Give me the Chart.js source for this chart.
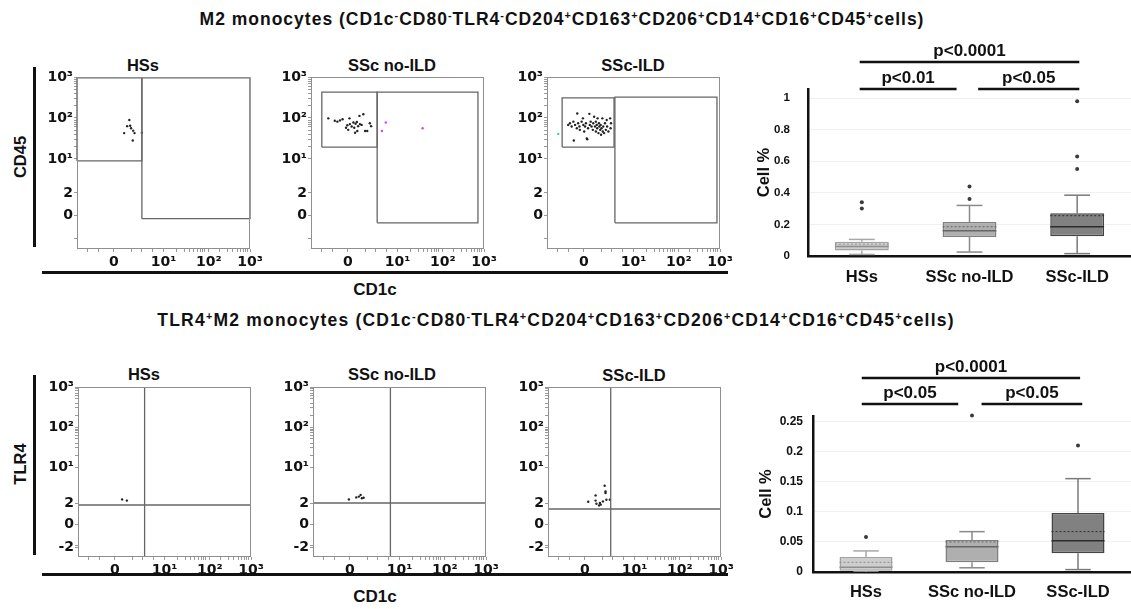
<!DOCTYPE html>
<html>
<head>
<meta charset="utf-8">
<script src="https://cdn.jsdelivr.net/npm/chart.js@4.4.1/dist/chart.umd.min.js"></script>
<style>
body { margin: 0; background: #fff; width: 1131px; height: 609px; position: relative; overflow: hidden; font-family: "Liberation Sans", Arial, sans-serif; }
canvas { position: absolute; }
.t { position: absolute; font-weight: bold; white-space: nowrap; line-height: 1; color: #111; transform: translate(-50%, -50%); }
.big { font-size: 17.5px; letter-spacing: 1px; }
.axt { font-size: 17px; }
.panel { font-size: 16.5px; }
.rot { font-size: 16.5px; transform: translate(-50%, -50%) rotate(-90deg); }
.rule { position: absolute; background: #111; }
sup { font-size: 62%; vertical-align: 0.55em; line-height: 0; }
</style>
</head>
<body>

<div class="t big" style="left:562px;top:20px">M2 monocytes (CD1c<sup>-</sup>CD80<sup>-</sup>TLR4<sup>-</sup>CD204<sup>+</sup>CD163<sup>+</sup>CD206<sup>+</sup>CD14<sup>+</sup>CD16<sup>+</sup>CD45<sup>+</sup>cells)</div>
<div class="t big" style="left:556px;top:321px;letter-spacing:1.2px">TLR4<sup>+</sup>M2 monocytes (CD1c<sup>-</sup>CD80<sup>-</sup>TLR4<sup>+</sup>CD204<sup>+</sup>CD163<sup>+</sup>CD206<sup>+</sup>CD14<sup>+</sup>CD16<sup>+</sup>CD45<sup>+</sup>cells)</div>

<div class="t panel" style="left:143px;top:65px">HSs</div>
<div class="t panel" style="left:392px;top:65px">SSc no-ILD</div>
<div class="t panel" style="left:633px;top:65px">SSc-ILD</div>
<div class="t panel" style="left:144px;top:374px">HSs</div>
<div class="t panel" style="left:392px;top:374px">SSc no-ILD</div>
<div class="t panel" style="left:634px;top:375px">SSc-ILD</div>

<div class="t rot" style="left:20px;top:157px">CD45</div>
<div class="t rot" style="left:20px;top:464px">TLR4</div>
<div class="rule" style="left:33px;top:67px;width:3px;height:180px"></div>
<div class="rule" style="left:33px;top:375px;width:3px;height:180px"></div>
<div class="rule" style="left:42px;top:271px;width:686px;height:3px"></div>
<div class="rule" style="left:42px;top:573px;width:686px;height:3px"></div>
<div class="t axt" style="left:375px;top:289px">CD1c</div>
<div class="t axt" style="left:375px;top:596px">CD1c</div>

<canvas id="f1" width="237" height="207" style="left:27px;top:67px"></canvas>
<canvas id="f2" width="237" height="207" style="left:261px;top:67px"></canvas>
<canvas id="f3" width="237" height="207" style="left:497px;top:67px"></canvas>
<canvas id="g1" width="237" height="205" style="left:28px;top:377px"></canvas>
<canvas id="g2" width="237" height="205" style="left:263px;top:377px"></canvas>
<canvas id="g3" width="237" height="205" style="left:498px;top:377px"></canvas>
<canvas id="box1" width="391" height="250" style="left:740px;top:40px"></canvas>
<canvas id="box2" width="391" height="265" style="left:740px;top:340px"></canvas>

<script>
// flow plots: axis units are decades on the display scale (10^1 = 1, 10^2 = 2, 10^3 = 3)
const xMajor = [-0.15, 1, 2.05, 3]
const xMajorLabels = ['0', '10¹', '10²', '10³']
const xMinor = [-0.75, -0.5, 0.25, 0.5, 0.75, 1.3, 1.48, 1.6, 1.7, 1.78, 1.85, 1.9, 1.95, 2.3, 2.48, 2.6, 2.7, 2.78, 2.85, 2.9, 2.95]
const m2YMajor = [-0.39, 0.17, 1, 2, 3]
const m2YLabels = ['0', '2', '10¹', '10²', '10³']
const tlrYMajor = [-1.0, -0.43, 0.1, 1, 2, 3]
const tlrYLabels = ['-2', '0', '2', '10¹', '10²', '10³']
const yMinor = [-0.95, 1.3, 1.48, 1.6, 1.7, 1.78, 1.85, 1.9, 1.95, 2.3, 2.48, 2.6, 2.7, 2.78, 2.85, 2.9, 2.95]

// gates as [x0, x1, y0, y1]
const m2GatesHSs = [[-1, 0.5, 0.95, 2.98], [0.5, 3, -0.46, 2.98]]
const m2GatesNoILD = [[-0.75, 0.53, 1.29, 2.63], [0.53, 2.86, -0.56, 2.63]]
const m2GatesILD = [[-0.65, 0.55, 1.29, 2.49], [0.57, 2.93, -0.56, 2.51]]
// quadrant crosses as [x, y]
const tlrQuadHSs = [0.54, 0.05]
const tlrQuadNoILD = [0.79, 0.10]
const tlrQuadILD = [0.45, -0.05]

const m2EventsHSs = [[0.09, 1.63], [0.16, 1.8], [0.21, 1.95], [0.23, 1.81], [0.25, 1.75], [0.29, 1.45], [0.30, 1.69], [0.33, 1.63], [0.50, 1.64]]
const m2EventsNoILD = [[-0.6, 1.99], [-0.45, 1.93], [-0.39, 1.91], [-0.33, 1.94], [-0.27, 1.97], [-0.19, 1.76], [-0.16, 1.82],
	[-0.14, 1.71], [-0.11, 1.99], [-0.10, 1.85], [-0.06, 1.79], [-0.02, 1.89], [0.0, 1.76], [0.02, 1.64], [0.03, 1.86],
	[0.06, 1.90], [0.07, 1.68], [0.09, 1.80], [0.12, 2.05], [0.13, 1.85], [0.17, 1.83], [0.21, 2.09], [0.25, 1.68],
	[0.30, 1.68], [0.36, 1.87], [0.39, 1.80]]
const m2EventsNoILDOut = [[0.73, 1.89], [0.64, 1.68], [1.58, 1.75]]
const m2EventsILD = [[-0.51, 1.83], [-0.47, 1.87], [-0.43, 1.79], [-0.39, 1.91], [-0.38, 1.45], [-0.35, 1.83], [-0.31, 1.75],
	[-0.30, 2.11], [-0.28, 1.87], [-0.25, 1.79], [-0.24, 1.71], [-0.20, 1.91], [-0.17, 1.99], [-0.16, 1.83], [-0.14, 1.67],
	[-0.12, 1.79], [-0.10, 1.87], [-0.08, 1.50], [-0.07, 1.48], [-0.05, 1.75], [-0.02, 2.10], [-0.01, 1.83], [0.01, 1.91],
	[0.03, 1.79], [0.06, 1.71], [0.07, 1.87], [0.09, 2.03], [0.11, 1.79], [0.13, 1.67], [0.13, 1.91], [0.15, 1.83],
	[0.16, 1.75], [0.17, 1.99], [0.19, 1.63], [0.20, 1.87], [0.21, 1.79], [0.23, 1.71], [0.24, 1.83], [0.25, 1.59],
	[0.26, 1.75], [0.28, 1.99], [0.29, 1.67], [0.30, 1.79], [0.32, 1.63], [0.34, 1.87], [0.36, 1.71], [0.38, 1.95],
	[0.39, 1.79], [0.42, 1.67], [0.46, 1.99], [0.47, 1.75], [0.48, 1.87]]
const m2EventsILDOut = [[-0.74, 1.61]]
const tlrEventsHSs = [[0.02, 0.19], [0.13, 0.16]]
const tlrEventsNoILD = [[-0.17, 0.19], [0.0, 0.24], [0.06, 0.26], [0.10, 0.30], [0.13, 0.22], [0.17, 0.23]]
const tlrEventsILD = [[-0.07, 0.13], [0.10, 0.29], [0.10, 0.16], [0.12, 0.08], [0.18, 0.04], [0.20, 0.10], [0.22, 0.06],
	[0.27, 0.14], [0.31, 0.53], [0.33, 0.39], [0.33, 0.35], [0.35, 0.18], [0.43, 0.18]]

// box plots
const groups = ['HSs', 'SSc no-ILD', 'SSc-ILD']
const m2Min = [0.01, 0.025, 0.015]
const m2Q1 = [0.035, 0.12, 0.125]
const m2Median = [0.06, 0.16, 0.185]
const m2Mean = [0.075, 0.185, 0.255]
const m2Q3 = [0.09, 0.215, 0.27]
const m2Max = [0.105, 0.32, 0.385]
const m2Outliers = [[0.30, 0.34], [0.36, 0.44], [0.55, 0.63, 0.98]]
const m2Ticks = [0, 0.2, 0.4, 0.6, 0.8, 1]
const m2Sig = [
	{from: -0.02, to: 2.02, label: 'p<0.0001', level: 1},
	{from: -0.02, to: 0.88, label: 'p<0.01', level: 0},
	{from: 1.08, to: 2.02, label: 'p<0.05', level: 0},
]

const tlrMin = [0, 0.007, 0.004]
const tlrQ1 = [0.002, 0.016, 0.031]
const tlrMedian = [0.008, 0.042, 0.052]
const tlrMean = [0.016, 0.05, 0.067]
const tlrQ3 = [0.025, 0.053, 0.098]
const tlrMax = [0.035, 0.067, 0.155]
const tlrOutliers = [[0.058], [0.26], [0.21]]
const tlrTicks = [0, 0.05, 0.1, 0.15, 0.2, 0.25]
const tlrSig = [
	{from: -0.04, to: 2.02, label: 'p<0.0001', level: 1},
	{from: -0.04, to: 0.87, label: 'p<0.05', level: 0},
	{from: 1.09, to: 2.04, label: 'p<0.05', level: 0},
]

Chart.defaults.font.family = '"Liberation Sans", Arial, sans-serif'
Chart.defaults.color = '#111'

const framePlugin = {
	id: 'frame',
	afterDatasetsDraw(chart) {
		const a = chart.chartArea, ctx = chart.ctx
		ctx.save()
		ctx.strokeStyle = '#8f8f8f'
		ctx.lineWidth = 1
		ctx.strokeRect(a.left + 0.5, a.top + 0.5, a.right - a.left - 1, a.bottom - a.top - 1)
		ctx.restore()
	}
}

function flowAxis(min, max, major, labels, minor, horizontal) {
	return {
		type: 'linear',
		min: min,
		max: max,
		afterFit: function(s) {
			if (horizontal) s.height = 25
			else s.width = 50
		},
		afterBuildTicks: function(s) {
			s.ticks = major.concat(minor).map(v => ({value: v}))
		},
		ticks: {
			autoSkip: false,
			maxRotation: 0,
			padding: horizontal ? 2 : 1,
			color: '#111',
			font: {family: '"DejaVu Sans", Verdana, sans-serif', weight: 'bold', size: 14},
			callback: function(v) {
				const k = major.indexOf(v)
				return k < 0 ? '' : labels[k]
			},
		},
		grid: {drawOnChartArea: false, drawTicks: true, tickLength: 3, color: '#9a9a9a'},
		border: {display: false},
	}
}

function events(list, color) {
	return {
		data: list.map(p => ({x: p[0], y: p[1]})),
		pointRadius: 1.2,
		backgroundColor: color,
		borderColor: color,
		borderWidth: 0,
	}
}

function gateLine(points) {
	return {
		data: points,
		showLine: true,
		pointRadius: 0,
		borderColor: '#666',
		borderWidth: 1.3,
		clip: false,
	}
}

function flowPanel(id, o) {
	const datasets = []
	if (o.gates) {
		o.gates.forEach(g => {
			datasets.push(gateLine([
				{x: g[0], y: g[2]}, {x: g[1], y: g[2]}, {x: g[1], y: g[3]}, {x: g[0], y: g[3]}, {x: g[0], y: g[2]}
			]))
		})
	}
	if (o.quad) {
		datasets.push(gateLine([{x: o.quad[0], y: o.yMin}, {x: o.quad[0], y: 3}]))
		datasets.push(gateLine([{x: -1, y: o.quad[1]}, {x: 3, y: o.quad[1]}]))
	}
	datasets.push(events(o.events, '#222'))
	if (o.extra) datasets.push(events(o.extra, o.extraColor))

	return new Chart(document.getElementById(id), {
		type: 'scatter',
		data: {datasets: datasets},
		options: {
			responsive: false,
			animation: false,
			events: [],
			layout: {padding: {top: 10, right: 14, left: 0, bottom: 0}, autoPadding: false},
			plugins: {legend: {display: false}, tooltip: {enabled: false}},
			scales: {
				x: flowAxis(-1, 3, xMajor, xMajorLabels, xMinor, true),
				y: flowAxis(o.yMin, 3, o.yMajor, o.yLabels, yMinor, false),
			},
		},
		plugins: [framePlugin],
	})
}

flowPanel('f1', {yMin: -1.2, yMajor: m2YMajor, yLabels: m2YLabels, gates: m2GatesHSs, events: m2EventsHSs})
flowPanel('f2', {yMin: -1.2, yMajor: m2YMajor, yLabels: m2YLabels, gates: m2GatesNoILD, events: m2EventsNoILD,
	extra: m2EventsNoILDOut, extraColor: '#e040e0'})
flowPanel('f3', {yMin: -1.2, yMajor: m2YMajor, yLabels: m2YLabels, gates: m2GatesILD, events: m2EventsILD,
	extra: m2EventsILDOut, extraColor: '#40d0b0'})
flowPanel('g1', {yMin: -1.25, yMajor: tlrYMajor, yLabels: tlrYLabels, quad: tlrQuadHSs, events: tlrEventsHSs})
flowPanel('g2', {yMin: -1.25, yMajor: tlrYMajor, yLabels: tlrYLabels, quad: tlrQuadNoILD, events: tlrEventsNoILD})
flowPanel('g3', {yMin: -1.25, yMajor: tlrYMajor, yLabels: tlrYLabels, quad: tlrQuadILD, events: tlrEventsILD})

// box plots
const boxFill = ['#cdcdcd', '#afafaf', '#818181']
const boxEdge = ['#a2a2a2', '#7f7f7f', '#444']
const whiskerColor = ['#a8a8a8', '#8a8a8a', '#7a7a7a']
const medianColor = ['#8e8e8e', '#666', '#2c2c2c']

const sigPlugin = {
	id: 'sig',
	afterDraw(chart, args, opts) {
		const ctx = chart.ctx, x = chart.scales.x2, top = chart.chartArea.top
		ctx.save()
		ctx.strokeStyle = '#111'
		ctx.fillStyle = '#111'
		ctx.lineWidth = 2.5
		ctx.font = 'bold 17px "Liberation Sans", Arial, sans-serif'
		ctx.textAlign = 'center'
		ctx.textBaseline = 'middle'
		opts.pairs.forEach(p => {
			const y = top - opts.base - p.level * opts.step
			const a = x.getPixelForValue(p.from), b = x.getPixelForValue(p.to)
			ctx.beginPath()
			ctx.moveTo(a, y)
			ctx.lineTo(b, y)
			ctx.stroke()
			ctx.fillText(p.label, (a + b) / 2, y - 11)
		})
		ctx.restore()
	}
}

function seg(x0, y0, x1, y1, color, width, dash) {
	return {
		type: 'line',
		xAxisID: 'x2',
		data: [{x: x0, y: y0}, {x: x1, y: y1}],
		borderColor: color,
		borderWidth: width,
		borderDash: dash || [],
		pointRadius: 0,
		order: 0,
	}
}

function boxPlot(id, st, o) {
	const cap = 0.12, half = 0.25
	const datasets = [{
		type: 'bar',
		xAxisID: 'x',
		data: groups.map((g, i) => [st.q1[i], st.q3[i]]),
		backgroundColor: boxFill,
		borderColor: boxEdge,
		borderWidth: 1.5,
		borderSkipped: false,
		grouped: false,
		barPercentage: 0.5,
		categoryPercentage: 1,
		order: 1,
	}]
	groups.forEach((g, i) => {
		datasets.push(seg(i, st.q3[i], i, st.max[i], whiskerColor[i], 1.5))
		datasets.push(seg(i, st.q1[i], i, st.min[i], whiskerColor[i], 1.5))
		datasets.push(seg(i - cap, st.max[i], i + cap, st.max[i], whiskerColor[i], 1.5))
		datasets.push(seg(i - cap, st.min[i], i + cap, st.min[i], whiskerColor[i], 1.5))
		datasets.push(seg(i - half, st.median[i], i + half, st.median[i], medianColor[i], 1.5))
		datasets.push(seg(i - half, st.mean[i], i + half, st.mean[i], medianColor[i], 1, [2, 2]))
	})
	const pts = []
	st.outliers.forEach((list, i) => list.forEach(v => pts.push({x: i, y: v})))
	datasets.push({
		type: 'scatter',
		xAxisID: 'x2',
		data: pts,
		pointRadius: 2,
		backgroundColor: '#3a3a3a',
		borderColor: '#3a3a3a',
		borderWidth: 0,
		clip: false,
		order: 0,
	})

	return new Chart(document.getElementById(id), {
		type: 'bar',
		data: {labels: groups, datasets: datasets},
		options: {
			responsive: false,
			animation: false,
			events: [],
			layout: {padding: {top: o.padTop, right: 0, left: 0, bottom: 0}, autoPadding: false},
			plugins: {
				legend: {display: false},
				tooltip: {enabled: false},
				sig: {pairs: o.sig, base: o.sigBase, step: o.sigStep},
			},
			scales: {
				x: {
					type: 'category',
					offset: true,
					afterFit: s => { s.height = o.xHeight },
					ticks: {padding: o.labelPad, color: '#111', font: {weight: 'bold', size: 16.5}},
					grid: {display: false, drawTicks: false},
					border: {display: true, color: '#111', width: 2.5},
				},
				x2: {type: 'linear', min: -0.5, max: 2.5, offset: false, grid: {offset: false}, display: false},
				y: {
					min: 0,
					max: o.yMax,
					afterFit: s => { s.width = o.yWidth },
					afterBuildTicks: s => { s.ticks = o.ticks.map(v => ({value: v})) },
					ticks: {padding: o.tickPad, color: '#111', font: {weight: 'bold', size: o.tickSize}, callback: v => String(v)},
					grid: {color: '#f0f0f0', drawTicks: false},
					border: {display: true, color: '#111', width: 2.5},
					title: {display: true, text: 'Cell %', color: '#111', font: {weight: 'bold', size: 16.5}, padding: {top: o.titlePad, bottom: 0}},
				},
			},
		},
		plugins: [sigPlugin],
	})
}

boxPlot('box1', {min: m2Min, q1: m2Q1, median: m2Median, mean: m2Mean, q3: m2Q3, max: m2Max, outliers: m2Outliers}, {
	padTop: 49, xHeight: 34, yWidth: 68, yMax: 1.057, ticks: m2Ticks, tickPad: 18, tickSize: 11.5,
	labelPad: 12, titlePad: 15, sig: m2Sig, sigBase: 0, sigStep: 27,
})
boxPlot('box2', {min: tlrMin, q1: tlrQ1, median: tlrMedian, mean: tlrMean, q3: tlrQ3, max: tlrMax, outliers: tlrOutliers}, {
	padTop: 76, xHeight: 33, yWidth: 73, yMax: 0.259, ticks: tlrTicks, tickPad: 10, tickSize: 12,
	labelPad: 11, titlePad: 17, sig: tlrSig, sigBase: 12, sigStep: 26,
})
</script>
</body>
</html>
